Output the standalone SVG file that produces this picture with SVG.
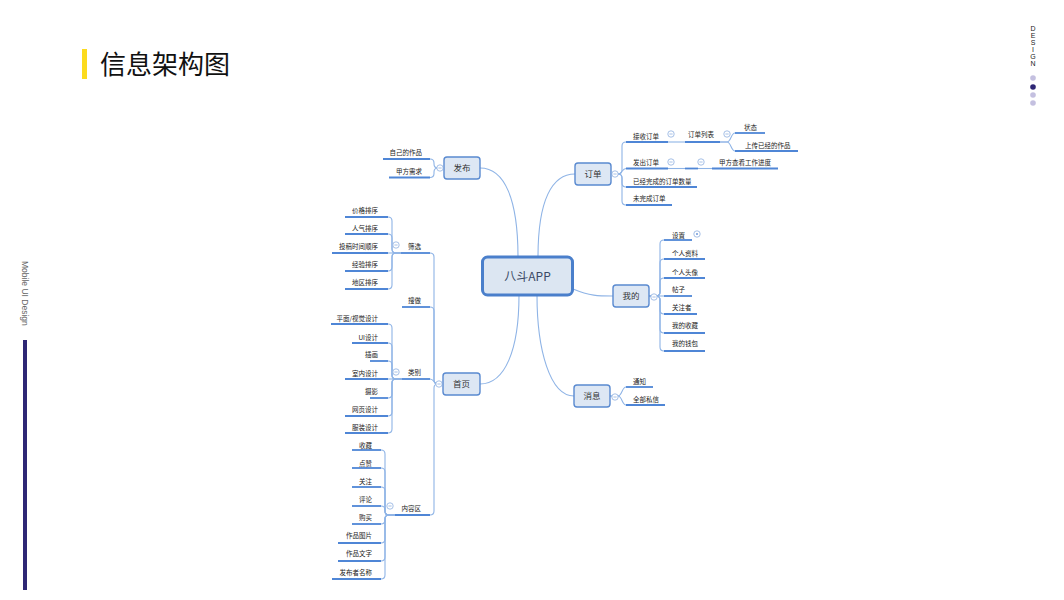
<svg xmlns="http://www.w3.org/2000/svg" width="1064" height="600" viewBox="0 0 1064 600">
<style>
.t{font-family:"Noto Sans CJK SC","Liberation Sans",sans-serif;font-size:6.5px;fill:#222}
.tl{text-anchor:end}
.bt{font-family:"Noto Sans CJK SC","Liberation Sans",sans-serif;font-size:8.5px;fill:#333;text-anchor:middle}
.box{fill:#dde7f4;stroke:#5a8ad0;stroke-width:1.4}
.ul{fill:none;stroke:#4f86d6;stroke-width:1.8}
.cn{fill:none;stroke:#8fb4e6;stroke-width:1.1}
.cc{fill:#fff;stroke:#8fb0e0;stroke-width:0.8}
.cm{stroke:#8fb0e0;stroke-width:0.8}
</style>
<rect width="1064" height="600" fill="#fff"/>
<g id="header">
<rect x="82" y="49" width="5" height="30" fill="#fcdb1e"/>
<text x="100" y="74" font-family="'Noto Sans CJK SC','Liberation Sans',sans-serif" font-size="26" fill="#111">信息架构图</text>
<g font-family="'Liberation Sans',sans-serif" font-size="7" fill="#222" text-anchor="middle">
<text x="1033" y="31">D</text><text x="1033" y="38">E</text><text x="1033" y="45">S</text><text x="1033" y="52">I</text><text x="1033" y="59">G</text><text x="1033" y="66">N</text>
</g>
<circle cx="1033" cy="78" r="2.8" fill="#c4c0e0"/>
<circle cx="1033" cy="87" r="2.8" fill="#2e2775"/>
<circle cx="1033" cy="95" r="2.8" fill="#c4c0e0"/>
<circle cx="1033" cy="103" r="2.8" fill="#c4c0e0"/>
<text transform="translate(21.5,261) rotate(90)" font-family="'Liberation Sans',sans-serif" font-size="8.5" fill="#666">Mobile UI Design</text>
<rect x="23" y="340" width="4" height="250" fill="#2e2775"/>
</g>
<g id="connectors">
<path class="cn" d="M480,168 C505,168 518,200 518,257"/>
<path class="cn" d="M538,257 C538,200 552,174 575,174"/>
<path class="cn" d="M519,295 C519,350 505,384 480,384"/>
<path class="cn" d="M537,295 C537,350 550,396 574,396"/>
<path class="cn" d="M573,289 C590,296 598,296 613,296"/>
<path class="cn" d="M444,168 H438 Q434,168 434,164 V163 Q434,159 430,159"/>
<path class="cn" d="M444,168 H438 Q434,168 434,172 V173.5 Q434,177.5 430,177.5"/>
<path class="cn" d="M443,384 H438 Q434,384 434,380 V257 Q434,253 430,253"/>
<path class="cn" d="M443,384 H438 Q434,384 434,380 V311 Q434,307 430,307"/>
<path class="cn" d="M443,384 H438 C434,384 434,379 430,379"/>
<path class="cn" d="M443,384 H438 Q434,384 434,388 V511 Q434,515 430,515"/>
<path class="cn" d="M401,253 H396 Q392,253 392,249 V221 Q392,217 388,217"/>
<path class="cn" d="M401,253 H396 Q392,253 392,249 V238 Q392,234 388,234"/>
<path class="cn" d="M401,253 H388"/>
<path class="cn" d="M401,253 H396 Q392,253 392,257 V267 Q392,271 388,271"/>
<path class="cn" d="M401,253 H396 Q392,253 392,257 V285 Q392,289 388,289"/>
<path class="cn" d="M402,379 H396 Q392,379 392,375 V328 Q392,324 388,324"/>
<path class="cn" d="M402,379 H396 Q392,379 392,375 V347 Q392,343 388,343"/>
<path class="cn" d="M402,379 H396 Q392,379 392,375 V365 Q392,361 388,361"/>
<path class="cn" d="M402,379 H388"/>
<path class="cn" d="M402,379 H396 Q392,379 392,383 V394 Q392,398 388,398"/>
<path class="cn" d="M402,379 H396 Q392,379 392,383 V412 Q392,416 388,416"/>
<path class="cn" d="M402,379 H396 Q392,379 392,383 V429 Q392,433 388,433"/>
<path class="cn" d="M395,515 H389 Q385,515 385,511 V454 Q385,450 381,450"/>
<path class="cn" d="M395,515 H389 Q385,515 385,511 V472 Q385,468 381,468"/>
<path class="cn" d="M395,515 H389 Q385,515 385,511 V491 Q385,487 381,487"/>
<path class="cn" d="M395,515 H389 Q385,515 385,511 V510 Q385,506 381,506"/>
<path class="cn" d="M395,515 H389 Q385,515 385,519 V520 Q385,524 381,524"/>
<path class="cn" d="M395,515 H389 Q385,515 385,519 V539 Q385,543 381,543"/>
<path class="cn" d="M395,515 H389 Q385,515 385,519 V557 Q385,561 381,561"/>
<path class="cn" d="M395,515 H389 Q385,515 385,519 V575 Q385,579 381,579"/>
<path class="cn" d="M611,174 H618 Q622,174 622,170 V146 Q622,142 626,142"/>
<path class="cn" d="M611,174 H618 C622,174 622,168.5 626,168.5"/>
<path class="cn" d="M611,174 H618 Q622,174 622,178 V183 Q622,187 626,187"/>
<path class="cn" d="M611,174 H618 Q622,174 622,178 V201 Q622,205 626,205"/>
<path class="cn" d="M668,142 H685"/>
<path class="cn" d="M720,142 H727 C731,142 731,133 735,133"/>
<path class="cn" d="M720,142 H727 C731,142 731,151 735,151"/>
<path class="cn" d="M668,168.5 H685"/>
<path class="cn" d="M698,168.5 H712"/>
<path class="cn" d="M649,296 H656 Q660,296 660,292 V244 Q660,240 664,240"/>
<path class="cn" d="M649,296 H656 Q660,296 660,292 V263 Q660,259 664,259"/>
<path class="cn" d="M649,296 H656 Q660,296 660,292 V282 Q660,278 664,278"/>
<path class="cn" d="M649,296 H664"/>
<path class="cn" d="M649,296 H656 Q660,296 660,300 V310 Q660,314 664,314"/>
<path class="cn" d="M649,296 H656 Q660,296 660,300 V329 Q660,333 664,333"/>
<path class="cn" d="M649,296 H656 Q660,296 660,300 V347 Q660,351 664,351"/>
<path class="cn" d="M610,396 H618 C622,396 622,387 626,387"/>
<path class="cn" d="M610,396 H618 C622,396 622,405 626,405"/>
</g>
<g id="root">
<rect x="482.5" y="257" width="90" height="38" rx="5" fill="#dce6f2" stroke="#4a7fcb" stroke-width="3"/>
<text x="527.5" y="280.5" font-family="'Noto Sans CJK SC','Liberation Sans',sans-serif" font-size="12" fill="#3b4a66" text-anchor="middle">八斗APP</text>
</g>
<g id="n-fabu">
<rect class="box" x="444" y="157" width="36" height="22" rx="3"/>
<text class="bt" x="462" y="171">发布</text>
<circle class="cc" cx="440" cy="168" r="3.2"/><path class="cm" d="M438.4,168 H441.6"/>
</g>
<g id="n-fabu-kids">
<path class="ul" d="M383,159 H430"/><text class="t tl" x="422" y="154.5">自己的作品</text>
<path class="ul" d="M389,177.5 H430"/><text class="t tl" x="422" y="173.5">甲方需求</text>
</g>
<g id="n-shouye">
<rect class="box" x="443" y="373" width="37" height="22" rx="3"/>
<text class="bt" x="461.5" y="387">首页</text>
<circle class="cc" cx="439" cy="384" r="3.2"/><path class="cm" d="M437.4,384 H440.6"/>
</g>
<g id="n-shaixuan">
<path class="ul" d="M401,253 H430"/><text class="t tl" x="421" y="248.5">筛选</text>
<circle class="cc" cx="396" cy="245" r="3.2"/><path class="cm" d="M394.4,245 H397.6"/>
<path class="ul" d="M345,217 H388"/><text class="t tl" x="378" y="212.5">价格排序</text>
<path class="ul" d="M345,234 H388"/><text class="t tl" x="378" y="230.5">人气排序</text>
<path class="ul" d="M332,253 H388"/><text class="t tl" x="378" y="248.5">投稿时间顺序</text>
<path class="ul" d="M345,271 H388"/><text class="t tl" x="378" y="266.5">经验排序</text>
<path class="ul" d="M345,289 H388"/><text class="t tl" x="378" y="285">地区排序</text>
</g>
<g id="n-sousuo">
<path class="ul" d="M402,307 H430"/><text class="t tl" x="421" y="302.5">搜做</text>
</g>
<g id="n-leibie">
<path class="ul" d="M402,379 H430"/><text class="t tl" x="421" y="374.5">类别</text>
<circle class="cc" cx="396" cy="372" r="3.2"/><path class="cm" d="M394.4,372 H397.6"/>
<path class="ul" d="M331,324 H388"/><text class="t tl" x="378" y="320.5">平面/视觉设计</text>
<path class="ul" d="M352,343 H388"/><text class="t tl" x="378" y="339.5">UI设计</text>
<path class="ul" d="M370,361 H388"/><text class="t tl" x="378" y="356.5">插画</text>
<path class="ul" d="M345,379 H388"/><text class="t tl" x="378" y="375.5">室内设计</text>
<path class="ul" d="M370,398 H388"/><text class="t tl" x="378" y="393.5">摄影</text>
<path class="ul" d="M345,416 H388"/><text class="t tl" x="378" y="411.5">网页设计</text>
<path class="ul" d="M345,433 H388"/><text class="t tl" x="378" y="429.5">服装设计</text>
</g>
<g id="n-neirong">
<path class="ul" d="M395,515 H430"/><text class="t tl" x="421" y="510.5">内容区</text>
<circle class="cc" cx="390" cy="506" r="3.2"/><path class="cm" d="M388.4,506 H391.6"/>
<path class="ul" d="M352,450 H381"/><text class="t tl" x="372" y="447.5">收藏</text>
<path class="ul" d="M352,468 H381"/><text class="t tl" x="372" y="465.5">点赞</text>
<path class="ul" d="M352,487 H381"/><text class="t tl" x="372" y="483.5">关注</text>
<path class="ul" d="M352,506 H381"/><text class="t tl" x="372" y="501.5">评论</text>
<path class="ul" d="M352,524 H381"/><text class="t tl" x="372" y="519.5">购买</text>
<path class="ul" d="M338,543 H381"/><text class="t tl" x="372" y="537.5">作品图片</text>
<path class="ul" d="M338,561 H381"/><text class="t tl" x="372" y="555.5">作品文字</text>
<path class="ul" d="M332,579 H381"/><text class="t tl" x="372" y="574.5">发布者名称</text>
</g>
<g id="n-dingdan">
<rect class="box" x="575" y="163" width="36" height="22" rx="3"/>
<text class="bt" x="593" y="177">订单</text>
<circle class="cc" cx="615" cy="174" r="3.2"/><path class="cm" d="M613.4,174 H616.6"/>
</g>
<g id="n-dingdan-kids">
<path class="ul" d="M626,142 H668"/><text class="t" x="633" y="138.5">接收订单</text>
<circle class="cc" cx="671" cy="134" r="3.2"/><path class="cm" d="M669.4,134 H672.6"/>
<path class="ul" d="M685,142 H720"/><text class="t" x="688" y="136.5">订单列表</text>
<circle class="cc" cx="727" cy="134" r="3.2"/><path class="cm" d="M725.4,134 H728.6"/>
<path class="ul" d="M735,133 H765"/><text class="t" x="744" y="129.5">状态</text>
<path class="ul" d="M735,151 H798"/><text class="t" x="745" y="147.5">上传已经的作品</text>
<path class="ul" d="M626,168.5 H668"/><text class="t" x="633" y="164.5">发出订单</text>
<circle class="cc" cx="671" cy="162" r="3.2"/><path class="cm" d="M669.4,162 H672.6"/>
<path class="ul" d="M685,168.5 H698"/>
<circle class="cc" cx="701" cy="162" r="3.2"/><path class="cm" d="M699.4,162 H702.6"/>
<path class="ul" d="M712,168.5 H778"/><text class="t" x="719" y="164.5">甲方查看工作进度</text>
<path class="ul" d="M626,187 H697"/><text class="t" x="633" y="183.5">已经完成的订单数量</text>
<path class="ul" d="M626,205 H672"/><text class="t" x="633" y="200.5">未完成订单</text>
</g>
<g id="n-wode">
<rect class="box" x="613" y="285" width="36" height="22" rx="3"/>
<text class="bt" x="631" y="299">我的</text>
<circle class="cc" cx="654" cy="297" r="3.2"/><path class="cm" d="M652.4,297 H655.6"/>
</g>
<g id="n-wode-kids">
<path class="ul" d="M664,240 H692"/><text class="t" x="672" y="237.5">设置</text>
<circle class="cc" cx="697" cy="234" r="3.2"/><circle cx="697" cy="234" r="1" fill="#6f98d8"/>
<path class="ul" d="M664,259 H705"/><text class="t" x="672" y="255.5">个人资料</text>
<path class="ul" d="M664,278 H705"/><text class="t" x="672" y="274.5">个人头像</text>
<path class="ul" d="M664,296 H692"/><text class="t" x="672" y="291.5">帖子</text>
<path class="ul" d="M664,314 H697"/><text class="t" x="672" y="309.5">关注者</text>
<path class="ul" d="M664,333 H705"/><text class="t" x="672" y="327.5">我的收藏</text>
<path class="ul" d="M664,351 H705"/><text class="t" x="672" y="345.5">我的钱包</text>
</g>
<g id="n-xiaoxi">
<rect class="box" x="574" y="385" width="36" height="22" rx="3"/>
<text class="bt" x="592" y="399">消息</text>
<circle class="cc" cx="615" cy="397" r="3.2"/><path class="cm" d="M613.4,397 H616.6"/>
</g>
<g id="n-xiaoxi-kids">
<path class="ul" d="M626,387 H653"/><text class="t" x="633" y="383.5">通知</text>
<path class="ul" d="M626,405 H665"/><text class="t" x="633" y="401.5">全部私信</text>
</g>
</svg>
